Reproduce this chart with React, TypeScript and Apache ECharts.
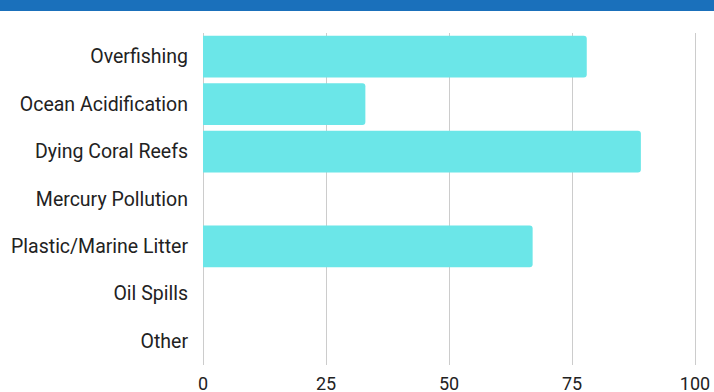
import React, { useEffect, useRef } from "react";
import * as echarts from "echarts";

const categories = [
  "Overfishing",
  "Ocean Acidification",
  "Dying Coral Reefs",
  "Mercury Pollution",
  "Plastic/Marine Litter",
  "Oil Spills",
  "Other",
];
const values = [78, 33, 89, 0, 67, 0, 0];
const xTicks = [0, 25, 50, 75, 100];

export default function App() {
  const ref = useRef<HTMLDivElement>(null);
  useEffect(() => {
    document.body.style.margin = "0";
    document.body.style.overflow = "hidden";
    const chart = echarts.init(ref.current!, null, { renderer: "svg" });
    chart.setOption({
      animation: false,
      backgroundColor: "#ffffff",
      textStyle: { fontFamily: "Roboto" },
      graphic: [
        {
          type: "rect",
          left: 0,
          top: 0,
          shape: { width: 714, height: 11 },
          style: { fill: "#1a70bb" },
          z: 10,
        },
      ],
      grid: { left: 203, right: 19, top: 33, height: 334, containLabel: false },
      xAxis: {
        type: "value",
        min: xTicks[0],
        max: xTicks[xTicks.length - 1],
        interval: 25,
        axisLine: { show: false },
        axisTick: { show: false },
        splitLine: { show: true, lineStyle: { color: "#cccccc", width: 1 } },
        axisLabel: { color: "#222222", fontSize: 18, margin: 9, fontFamily: "Roboto" },
      },
      yAxis: {
        type: "category",
        data: categories,
        inverse: true,
        axisLine: { show: false },
        axisTick: { show: false },
        axisLabel: { color: "#222222", fontSize: 19.5, margin: 15, fontFamily: "Roboto" },
      },
      series: [
        {
          type: "bar",
          data: values,
          barCategoryGap: "12%",
          itemStyle: { color: "#6be6e8", borderRadius: [0, 3, 3, 0] },
        },
      ],
    });
    return () => chart.dispose();
  }, []);
  return (
    <div
      ref={ref}
      style={{ position: "fixed", left: 0, top: 0, width: 714, height: 392, overflow: "hidden" }}
    />
  );
}
